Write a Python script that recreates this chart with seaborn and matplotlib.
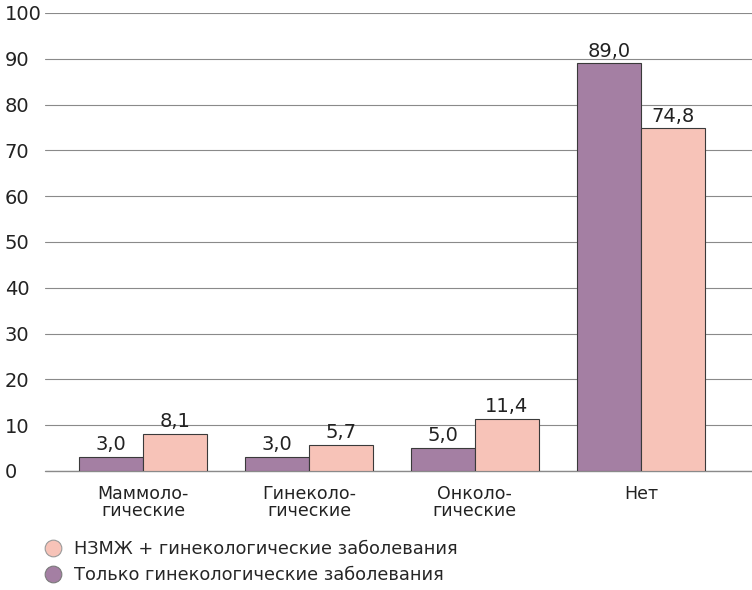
import matplotlib
matplotlib.use("Agg")
import matplotlib.pyplot as plt
import seaborn as sns
import pandas as pd
from matplotlib.lines import Line2D

categories = ["Маммоло-\nгические", "Гинеколо-\nгические", "Онколо-\nгические", "Нет"]
series_names = ["Только гинекологические заболевания", "НЗМЖ + гинекологические заболевания"]
only_gyn = [3.0, 3.0, 5.0, 89.0]
nzmzh_gyn = [8.1, 5.7, 11.4, 74.8]
yticks = [0, 10, 20, 30, 40, 50, 60, 70, 80, 90, 100]
colors = ["#a47fa3", "#f7c3b8"]

sns.set_theme(style="white")
plt.rcParams['font.family'] = ['DejaVu Sans']

df = pd.DataFrame({
    "cat": categories * 2,
    "series": [series_names[0]] * 4 + [series_names[1]] * 4,
    "val": only_gyn + nzmzh_gyn,
})

fig = plt.figure(figsize=(7.52, 5.90), dpi=100)
ax = fig.add_axes([0.06, 0.2017, 0.94, 0.7763])
ax.axhline(0, color="#8a8a8a", linewidth=1.0, zorder=0.5, clip_on=False)
sns.barplot(data=df, x="cat", y="val", hue="series", hue_order=series_names,
            palette=colors, width=0.77, edgecolor="#3a3a3a", linewidth=0.8,
            legend=False, ax=ax, saturation=1)

for cont, vals in zip(ax.containers, [only_gyn, nzmzh_gyn]):
    ax.bar_label(cont, labels=[f"{v:.1f}".replace(".", ",") for v in vals],
                 padding=2, fontsize=14, color="#222222")

ax.set_ylim(0, 100)
ax.set_xlim(-0.59, 3.67)
ax.set_yticks(yticks)
ax.yaxis.grid(True, color="#8a8a8a", linewidth=0.8)
ax.set_axisbelow(True)
for s in ax.spines.values():
    s.set_visible(False)
ax.set_xlabel("")
ax.set_ylabel("")
ax.tick_params(axis="y", length=0, labelsize=14, pad=29, colors="#222222")
for t in ax.get_yticklabels():
    t.set_horizontalalignment("left")
ax.tick_params(axis="x", length=0, labelsize=12.5, pad=10, colors="#222222")
for t in ax.get_xticklabels():
    t.set_linespacing(0.95)

handles = [
    Line2D([0], [0], marker="o", linestyle="", markersize=12,
           markerfacecolor=colors[1], markeredgecolor="#9a9a9a", markeredgewidth=0.8),
    Line2D([0], [0], marker="o", linestyle="", markersize=12,
           markerfacecolor=colors[0], markeredgecolor="#7a7a7a", markeredgewidth=0.8),
]
fig.legend(handles, [series_names[1], series_names[0]], loc="upper left",
           bbox_to_anchor=(0.047, 0.085), frameon=False, fontsize=12.8,
           handletextpad=0.2, labelspacing=0.45, borderaxespad=0, borderpad=0)

fig.savefig("out.png", dpi=100)
